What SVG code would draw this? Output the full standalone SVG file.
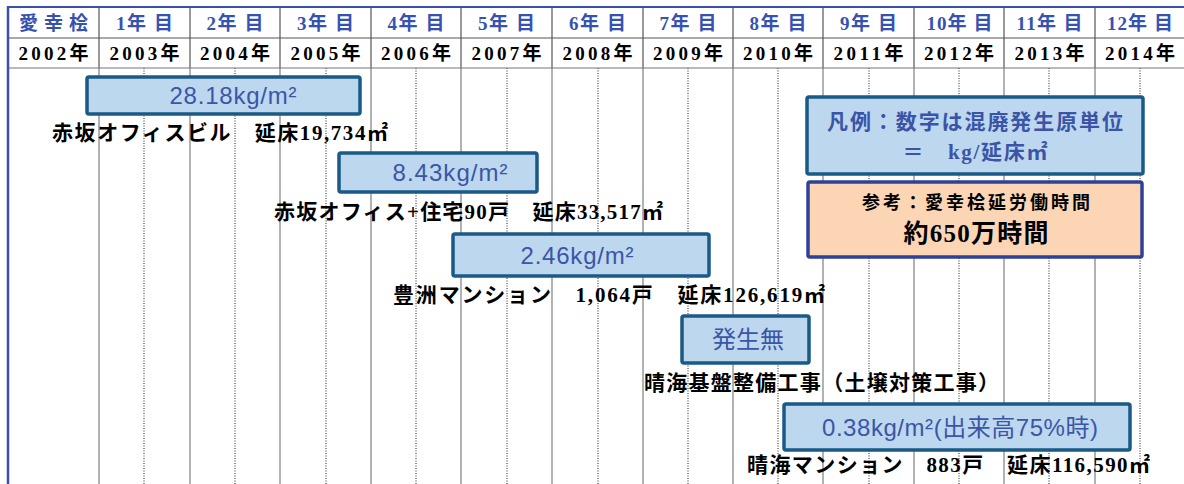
<svg xmlns="http://www.w3.org/2000/svg" width="1184" height="484" viewBox="0 0 1184 484">
<style>
.hd1{font-family:"Liberation Serif","Noto Sans CJK JP",serif;font-weight:bold;font-size:19px;fill:#3552B0;text-anchor:middle;dominant-baseline:central}
.hd2{font-family:"Liberation Serif","Noto Sans CJK JP",serif;font-weight:bold;font-size:19px;fill:#000;text-anchor:middle;dominant-baseline:central}
.lbl{font-family:"Liberation Serif","Noto Sans CJK JP",serif;font-weight:bold;font-size:21px;fill:#000;dominant-baseline:central}
.val{font-family:"Liberation Sans","Noto Sans CJK JP",sans-serif;font-size:24px;fill:#3B55A8;text-anchor:middle;dominant-baseline:central}
.bar{fill:#BDD7EE;stroke:#1A5A86;stroke-width:3.5}
.sol{stroke:#999;stroke-width:1.5}
.hsol{stroke:#555;stroke-width:1.2}
.dot{stroke:#222;stroke-width:1;stroke-dasharray:1 1.5}
.leg{font-family:"Liberation Serif","Noto Sans CJK JP",serif;font-weight:bold;font-size:21px;fill:#3A54A8;text-anchor:middle;dominant-baseline:central}
.ref{font-family:"Liberation Serif","Noto Sans CJK JP",serif;font-weight:bold;fill:#000;text-anchor:middle;dominant-baseline:central}
</style>
<rect width="1184" height="484" fill="#fff"/>
<g id="grid">
<g id="dotted">
<line class="dot" x1="144" y1="68" x2="144" y2="484"/>
<line class="dot" x1="235" y1="68" x2="235" y2="484"/>
<line class="dot" x1="326" y1="68" x2="326" y2="484"/>
<line class="dot" x1="416" y1="68" x2="416" y2="484"/>
<line class="dot" x1="507" y1="68" x2="507" y2="484"/>
<line class="dot" x1="598" y1="68" x2="598" y2="484"/>
<line class="dot" x1="688" y1="68" x2="688" y2="484"/>
<line class="dot" x1="778" y1="68" x2="778" y2="484"/>
<line class="dot" x1="869" y1="68" x2="869" y2="484"/>
<line class="dot" x1="959" y1="68" x2="959" y2="484"/>
<line class="dot" x1="1049" y1="68" x2="1049" y2="484"/>
<line class="dot" x1="1140" y1="68" x2="1140" y2="484"/>
</g>
<g id="solid">
<line class="sol" x1="99" y1="68" x2="99" y2="484"/>
<line class="sol" x1="190" y1="68" x2="190" y2="484"/>
<line class="sol" x1="280" y1="68" x2="280" y2="484"/>
<line class="sol" x1="371" y1="68" x2="371" y2="484"/>
<line class="sol" x1="461" y1="68" x2="461" y2="484"/>
<line class="sol" x1="552" y1="68" x2="552" y2="484"/>
<line class="sol" x1="643" y1="68" x2="643" y2="484"/>
<line class="sol" x1="733" y1="68" x2="733" y2="484"/>
<line class="sol" x1="823" y1="68" x2="823" y2="484"/>
<line class="sol" x1="914" y1="68" x2="914" y2="484"/>
<line class="sol" x1="1004" y1="68" x2="1004" y2="484"/>
<line class="sol" x1="1095" y1="68" x2="1095" y2="484"/>
</g>
<g id="header-lines">
<line class="hsol" x1="99" y1="8" x2="99" y2="68"/>
<line class="hsol" x1="190" y1="8" x2="190" y2="68"/>
<line class="hsol" x1="280" y1="8" x2="280" y2="68"/>
<line class="hsol" x1="371" y1="8" x2="371" y2="68"/>
<line class="hsol" x1="461" y1="8" x2="461" y2="68"/>
<line class="hsol" x1="552" y1="8" x2="552" y2="68"/>
<line class="hsol" x1="643" y1="8" x2="643" y2="68"/>
<line class="hsol" x1="733" y1="8" x2="733" y2="68"/>
<line class="hsol" x1="823" y1="8" x2="823" y2="68"/>
<line class="hsol" x1="914" y1="8" x2="914" y2="68"/>
<line class="hsol" x1="1004" y1="8" x2="1004" y2="68"/>
<line class="hsol" x1="1095" y1="8" x2="1095" y2="68"/>
<line class="hsol" x1="8" y1="38" x2="1184" y2="38"/>
<line stroke="#777" stroke-width="1.2" x1="8" y1="68" x2="1184" y2="68"/>
<line stroke="#3A50B0" stroke-width="2" x1="7" y1="7" x2="1184" y2="7"/>
<line stroke="#3A50B0" stroke-width="2.5" x1="8" y1="6" x2="8" y2="484"/>
</g>
</g>
<g id="header-years">
<text class="hd1" x="53.5" y="23" textLength="69">愛幸桧</text>
<text class="hd1" x="144.5" y="23" textLength="57">1年 目</text>
<text class="hd1" x="235" y="23" textLength="57">2年 目</text>
<text class="hd1" x="325.5" y="23" textLength="57">3年 目</text>
<text class="hd1" x="416" y="23" textLength="57">4年 目</text>
<text class="hd1" x="506.5" y="23" textLength="57">5年 目</text>
<text class="hd1" x="597.5" y="23" textLength="57">6年 目</text>
<text class="hd1" x="688" y="23" textLength="57">7年 目</text>
<text class="hd1" x="778" y="23" textLength="57">8年 目</text>
<text class="hd1" x="868.5" y="23" textLength="57">9年 目</text>
<text class="hd1" x="959.5" y="23" textLength="66">10年 目</text>
<text class="hd1" x="1049.5" y="23" textLength="66">11年 目</text>
<text class="hd1" x="1140" y="23" textLength="66">12年 目</text>
<text class="hd2" x="53.5" y="53" textLength="70">2002年</text>
<text class="hd2" x="144.5" y="53" textLength="70">2003年</text>
<text class="hd2" x="235" y="53" textLength="70">2004年</text>
<text class="hd2" x="325.5" y="53" textLength="70">2005年</text>
<text class="hd2" x="416" y="53" textLength="70">2006年</text>
<text class="hd2" x="506.5" y="53" textLength="70">2007年</text>
<text class="hd2" x="597.5" y="53" textLength="70">2008年</text>
<text class="hd2" x="688" y="53" textLength="70">2009年</text>
<text class="hd2" x="778" y="53" textLength="70">2010年</text>
<text class="hd2" x="868.5" y="53" textLength="70">2011年</text>
<text class="hd2" x="959" y="53" textLength="70">2012年</text>
<text class="hd2" x="1049.5" y="53" textLength="70">2013年</text>
<text class="hd2" x="1140" y="53" textLength="70">2014年</text>
</g>
<g id="akasaka-office">
<rect class="bar" x="87" y="77" width="273" height="37" rx="2"/>
<text class="val" x="233" y="95.5" textLength="127">28.18kg/m²</text>
<text class="lbl" x="52" y="133" textLength="336">赤坂オフィスビル　延床19,734㎡</text>
</g>
<g id="akasaka-residence">
<rect class="bar" x="339" y="153" width="198" height="39" rx="2"/>
<text class="val" x="450" y="172.5" textLength="115">8.43kg/m²</text>
<text class="lbl" x="274" y="212" textLength="389">赤坂オフィス+住宅90戸　延床33,517㎡</text>
</g>
<g id="toyosu">
<rect class="bar" x="453" y="234" width="256" height="42" rx="2"/>
<text class="val" x="577" y="255" textLength="113">2.46kg/m²</text>
<text class="lbl" x="393" y="295" textLength="432">豊洲マンション　1,064戸　延床126,619㎡</text>
</g>
<g id="harumi-base">
<rect class="bar" x="682" y="316" width="127" height="47" rx="2"/>
<text class="val" x="748" y="339.5">発生無</text>
<text class="lbl" x="644" y="383" textLength="355">晴海基盤整備工事（土壌対策工事）</text>
</g>
<g id="harumi-mansion">
<rect class="bar" x="784" y="404" width="346" height="46" rx="2"/>
<text class="val" x="960" y="427" textLength="276">0.38kg/m²(出来高75%時)</text>
<text class="lbl" x="747" y="465" textLength="403">晴海マンション　883戸　延床116,590㎡</text>
</g>
<g id="legend">
<rect class="bar" x="807" y="97" width="336" height="77" rx="2"/>
<text class="leg" x="975" y="122" textLength="296">凡例：数字は混廃発生原単位</text>
<text class="leg" x="975" y="152" textLength="145">＝　kg/延床㎡</text>
</g>
<g id="reference">
<rect x="808" y="182" width="334" height="75" rx="2" fill="#FCD5B4" stroke="#2F3F9A" stroke-width="3.5"/>
<text class="ref" x="976" y="203" font-size="18" textLength="228">参考：愛幸桧延労働時間</text>
<text class="ref" x="976" y="233" font-size="25" textLength="145">約650万時間</text>
</g>
</svg>
